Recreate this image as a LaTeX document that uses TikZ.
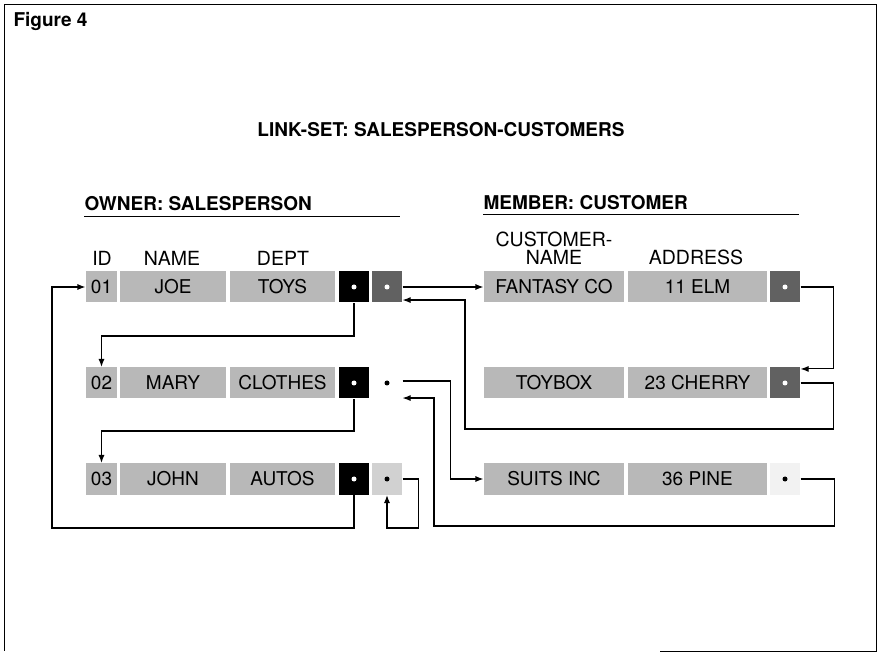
\documentclass[tikz,border=0pt]{standalone}
\usepackage{fontspec}
\setmainfont{TeX Gyre Heros}
\usetikzlibrary{arrows.meta}

\begin{document}
\begin{tikzpicture}[x=1pt,y=-1pt,>={Latex[length=8pt,width=6pt]},line width=1.1pt,
    field/.style={fill=black!28,minimum height=31pt,inner sep=0pt,
      font=\fontsize{19}{19}\selectfont},
    ownptr/.style={fill=black,minimum width=30pt,minimum height=31pt,inner sep=0pt},
    memptr/.style={fill=#1,minimum width=30pt,minimum height=31pt,inner sep=0pt},
    colhead/.style={inner sep=0pt,align=center,font=\fontsize{19.5}{18}\selectfont},
    heading/.style={inner sep=0pt,font=\bfseries\fontsize{19}{19}\selectfont}]
  \useasboundingbox (0,0) rectangle (879,652);
  \draw[line width=1pt] (660,651) -- (876,651) -- (876,5) -- (4,5) -- (4,651);

  \node[heading,anchor=west] (fig) at (13,21) {Figure 4};
  \node[heading] (title) at (441,130) {LINK-SET: SALESPERSON-CUSTOMERS};
  \node[heading,anchor=west] (owner) at (84,204) {OWNER: SALESPERSON};
  \node[heading,anchor=west] (member) at (483,203) {MEMBER: CUSTOMER};
  \draw[line width=0.6pt] ([yshift=-5pt]owner.south west) -- ++(316,0);
  \draw[line width=0.6pt] ([yshift=-4pt]member.south west) -- ++(316,0);

  % column heads
  \node[colhead] (hid) at (102,258) {ID};
  \node[colhead] (hname) at (172,258) {NAME};
  \node[colhead] (hdept) at (283,258) {DEPT};
  \node[colhead] (hcname) at (554,248) {CUSTOMER-\\NAME};
  \node[colhead] (haddr) at (696,257) {ADDRESS};

  % owner records
  \node[field,minimum width=31pt] (id1) at (101.5,287) {01};
  \node[field,minimum width=106pt] (nm1) at (173,287) {JOE};
  \node[field,minimum width=105pt] (dp1) at (282.5,287) {TOYS};
  \node[ownptr] (op1) at (354,287) {};
  \node[memptr=black!62] (mp1) at (387,287) {};

  \node[field,minimum width=31pt] (id2) at (101.5,383) {02};
  \node[field,minimum width=106pt] (nm2) at (173,383) {MARY};
  \node[field,minimum width=105pt] (dp2) at (282.5,383) {CLOTHES};
  \node[ownptr] (op2) at (354,383) {};
  \node[memptr=white] (mp2) at (387,383) {};

  \node[field,minimum width=31pt] (id3) at (101.5,479) {03};
  \node[field,minimum width=106pt] (nm3) at (173,479) {JOHN};
  \node[field,minimum width=105pt] (dp3) at (282.5,479) {AUTOS};
  \node[ownptr] (op3) at (354,479) {};
  \node[memptr=black!18] (mp3) at (387,479) {};

  % member records
  \node[field,minimum width=140pt] (cn1) at (554,287) {FANTASY CO};
  \node[field,minimum width=139pt] (ad1) at (697.5,287) {11 ELM};
  \node[memptr=black!62] (cp1) at (785,287) {};

  \node[field,minimum width=140pt] (cn2) at (554,383) {TOYBOX};
  \node[field,minimum width=139pt] (ad2) at (697.5,383) {23 CHERRY};
  \node[memptr=black!62] (cp2) at (785,383) {};

  \node[field,minimum width=140pt] (cn3) at (554,479) {SUITS INC};
  \node[field,minimum width=139pt] (ad3) at (697.5,479) {36 PINE};
  \node[memptr=black!5] (cp3) at (785,479) {};

  % pointer dots
  \fill[white] (op1) circle (2.5pt) (op2) circle (2.5pt) (op3) circle (2.5pt)
    (mp1) circle (2.5pt) (cp1) circle (2.5pt) (cp2) circle (2.5pt);
  \fill (mp2) circle (2.5pt) (mp3) circle (2.5pt) (cp3) circle (2.5pt);

  % owner chain
  \coordinate (wrapL) at (52,528);
  \draw[->] (op1.south) -- ++(0,33) -| (id2.north);
  \draw[->] (op2.south) -- ++(0,32) -| (id3.north);
  \draw[->] (op3.south) |- (wrapL) |- (id1.west);

  % member chain
  \coordinate (ret1) at (465,429);
  \coordinate (ret2) at (434,526);
  \draw[->] (mp1.east) -- (cn1.west);
  \draw[->] (cp1.east) -- ++(33,0) |- ([yshift=-2pt]cp2.north east);
  \draw[->] (cp2.east) -- ++(33,0) |- (ret1) |- ([yshift=3pt]mp1.south east);
  \draw[->] ([yshift=2pt]mp2.east) -- ++(48,0) |- (cn3.west);
  \draw[->] (cp3.east) -- ++(34,0) |- (ret2) |- ([yshift=1pt]mp2.south east);
  \draw[->] (mp3.east) -- ++(16,0) -- ++(0,49) -| (mp3.south);
\end{tikzpicture}
\end{document}
